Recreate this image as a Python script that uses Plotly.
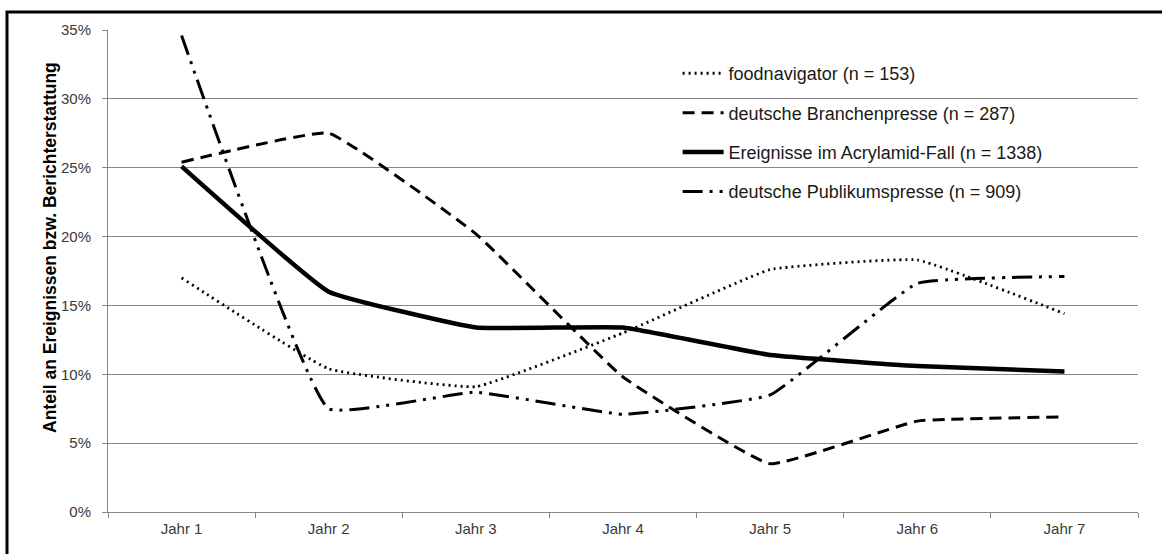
import plotly.graph_objects as go

categories = ["Jahr 1", "Jahr 2", "Jahr 3", "Jahr 4", "Jahr 5", "Jahr 6", "Jahr 7"]
foodnavigator = [17.0, 10.4, 9.1, 13.0, 17.6, 18.3, 14.4]
branchenpresse = [25.4, 27.5, 20.2, 9.8, 3.5, 6.6, 6.9]
ereignisse = [25.1, 16.0, 13.4, 13.4, 11.4, 10.6, 10.2]
publikumspresse = [34.6, 7.5, 8.7, 7.1, 8.5, 16.6, 17.1]
y_ticks = [0, 5, 10, 15, 20, 25, 30, 35]
y_ticktext = ["0%", "5%", "10%", "15%", "20%", "25%", "30%", "35%"]

names = [
    "foodnavigator (n = 153)",
    "deutsche Branchenpresse (n = 287)",
    "Ereignisse im Acrylamid-Fall (n = 1338)",
    "deutsche Publikumspresse (n = 909)",
]
series = [foodnavigator, branchenpresse, ereignisse, publikumspresse]
styles = [
    dict(width=2.8, dash="2px,4px"),
    dict(width=3, dash="12px,7px"),
    dict(width=4.5, dash="solid"),
    dict(width=3, dash="20px,7px,3px,7px,3px,7px"),
]

fig = go.Figure()
for i, (nm, vals, st) in enumerate(zip(names, series, styles)):
    fig.add_trace(go.Scatter(
        x=categories, y=vals, name=nm, mode="lines",
        line=dict(color="black", width=st["width"], dash=st["dash"], shape="spline", smoothing=0.3),
        legendgroup=f"g{i}",
    ))

FONT = "Liberation Sans, Arial, sans-serif"
axis_font = dict(family=FONT, size=15, color="#3a3a3a")

fig.update_layout(
    width=1162, height=554,
    margin=dict(l=108, r=24, t=30, b=42),
    paper_bgcolor="white", plot_bgcolor="white",
    font=dict(family=FONT),
    showlegend=True,
    legend=dict(
        x=0.553, y=0.948, xanchor="left", yanchor="top",
        font=dict(family=FONT, size=18, color="#1a1a1a"),
        tracegroupgap=13, itemwidth=41, bgcolor="rgba(0,0,0,0)",
    ),
    xaxis=dict(
        type="category", range=[-0.5, 6.5],
        showline=True, linecolor="#868686", linewidth=1,
        ticks="outside", tickson="boundaries", ticklen=5, tickcolor="#868686",
        tickfont=axis_font, showgrid=False, zeroline=False, ticklabelstandoff=3,
    ),
    yaxis=dict(
        range=[0, 35], tickvals=y_ticks, ticktext=y_ticktext,
        showline=True, linecolor="#868686", linewidth=1,
        ticks="outside", ticklen=5, tickcolor="#868686",
        showgrid=True, gridcolor="#868686", gridwidth=1, zeroline=False,
        tickfont=axis_font, ticklabelstandoff=8,
    ),
    annotations=[dict(
        text="<b>Anteil an Ereignissen bzw. Berichterstattung</b>",
        xref="paper", yref="paper",
        x=(50 - 108) / 1030, y=(512 - 248) / 482,
        xanchor="center", yanchor="middle", textangle=-90, showarrow=False,
        font=dict(family=FONT, size=17.5, color="black"),
    )],
    shapes=[dict(type="rect", xref="paper", yref="paper",
                 x0=(7 - 108) / 1030, x1=(1165 - 108) / 1030,
                 y0=(512 - 560) / 482, y1=(512 - 12) / 482,
                 line=dict(color="black", width=3), fillcolor="rgba(0,0,0,0)", layer="above")],
)

fig.write_html("out.html")
